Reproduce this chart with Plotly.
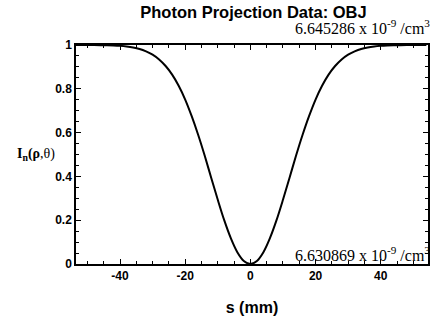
import plotly.graph_objects as go

s_mm = [-54, -52, -50, -48, -46, -44, -42, -40, -38, -36, -34, -32, -30, -28, -26, -24, -22, -20,
        -18, -16, -14, -12, -10, -8, -6, -4, -2, 0, 2, 4, 6, 8, 10, 12, 14, 16, 18, 20, 22, 24,
        26, 28, 30, 32, 34, 36, 38, 40, 42, 44, 46, 48, 50, 52, 54]
intensity = [1.0, 0.9999, 0.9998, 0.9997, 0.9994, 0.9988, 0.9978, 0.9961, 0.9934, 0.989, 0.982,
             0.971, 0.956, 0.934, 0.904, 0.865, 0.814, 0.751, 0.675, 0.589, 0.494, 0.393, 0.293,
             0.199, 0.118, 0.054, 0.014, 0.0, 0.014, 0.054, 0.118, 0.199, 0.293, 0.393, 0.494,
             0.589, 0.675, 0.751, 0.814, 0.865, 0.904, 0.934, 0.956, 0.971, 0.982, 0.989, 0.9934,
             0.9961, 0.9978, 0.9988, 0.9994, 0.9997, 0.9998, 0.9999, 1.0]
x_ticks = [-40, -20, 0, 20, 40]
x_tick_text = ["-40", "-20", "0", "20", "40"]
y_ticks = [0, 0.2, 0.4, 0.6, 0.8, 1]
y_tick_text = ["0", "0.2", "0.4", "0.6", "0.8", "1"]

fig = go.Figure()
fig.add_trace(go.Scatter(x=s_mm, y=intensity, mode="lines",
                         line=dict(color="black", width=2, shape="spline"),
                         showlegend=False, hoverinfo="skip"))

axis_common = dict(showgrid=False, zeroline=False, showline=True, linecolor="black",
                   linewidth=1.5, mirror="ticks", ticks="inside", ticklen=5, tickwidth=1,
                   tickcolor="black",
                   tickfont=dict(family="Liberation Sans, Arial", size=12, color="black",
                                 weight="bold"))

fig.update_xaxes(range=[-53.5, 54.5], tickvals=x_ticks, ticktext=x_tick_text,
                 minor=dict(dtick=5, ticks="inside", ticklen=3, tickcolor="black"),
                 title=dict(text="<b>s (mm)</b>", font=dict(family="Liberation Sans, Arial",
                                                           size=16, color="black"), standoff=20),
                 **axis_common)
fig.update_yaxes(range=[0, 1], tickvals=y_ticks, ticktext=y_tick_text,
                 minor=dict(dtick=0.05, ticks="inside", ticklen=3, tickcolor="black"),
                 **axis_common)

fig.add_annotation(xref="paper", yref="paper", x=1.01, y=1.0, xanchor="right",
                   yanchor="bottom", showarrow=False, yshift=6,
                   text="6.645286 x 10<sup>-9</sup> /cm<sup>3</sup>",
                   font=dict(family="Liberation Serif, Times New Roman", size=16, color="black"))
fig.add_annotation(xref="paper", yref="paper", x=1.01, y=0.0, xanchor="right",
                   yanchor="bottom", showarrow=False, yshift=-2,
                   text="6.630869 x 10<sup>-9</sup> /cm<sup>3</sup>",
                   font=dict(family="Liberation Serif, Times New Roman", size=16, color="black"))
fig.add_annotation(xref="paper", yref="paper", x=-0.054, y=0.5, xanchor="right",
                   yanchor="middle", showarrow=False,
                   text="<b>I<sub>n</sub>(ρ</b>,θ)",
                   font=dict(family="Liberation Serif, Times New Roman", size=14, color="black"))

fig.update_layout(
    width=437, height=323,
    margin=dict(l=76, r=7, t=45, b=59),
    paper_bgcolor="white", plot_bgcolor="white",
    title=dict(text="<b>Photon Projection Data: OBJ</b>", x=0.58, xanchor="center",
               y=0.98, yanchor="top",
               font=dict(family="Liberation Sans, Arial", size=16.5, color="black")),
)

fig.write_html("out.html")
